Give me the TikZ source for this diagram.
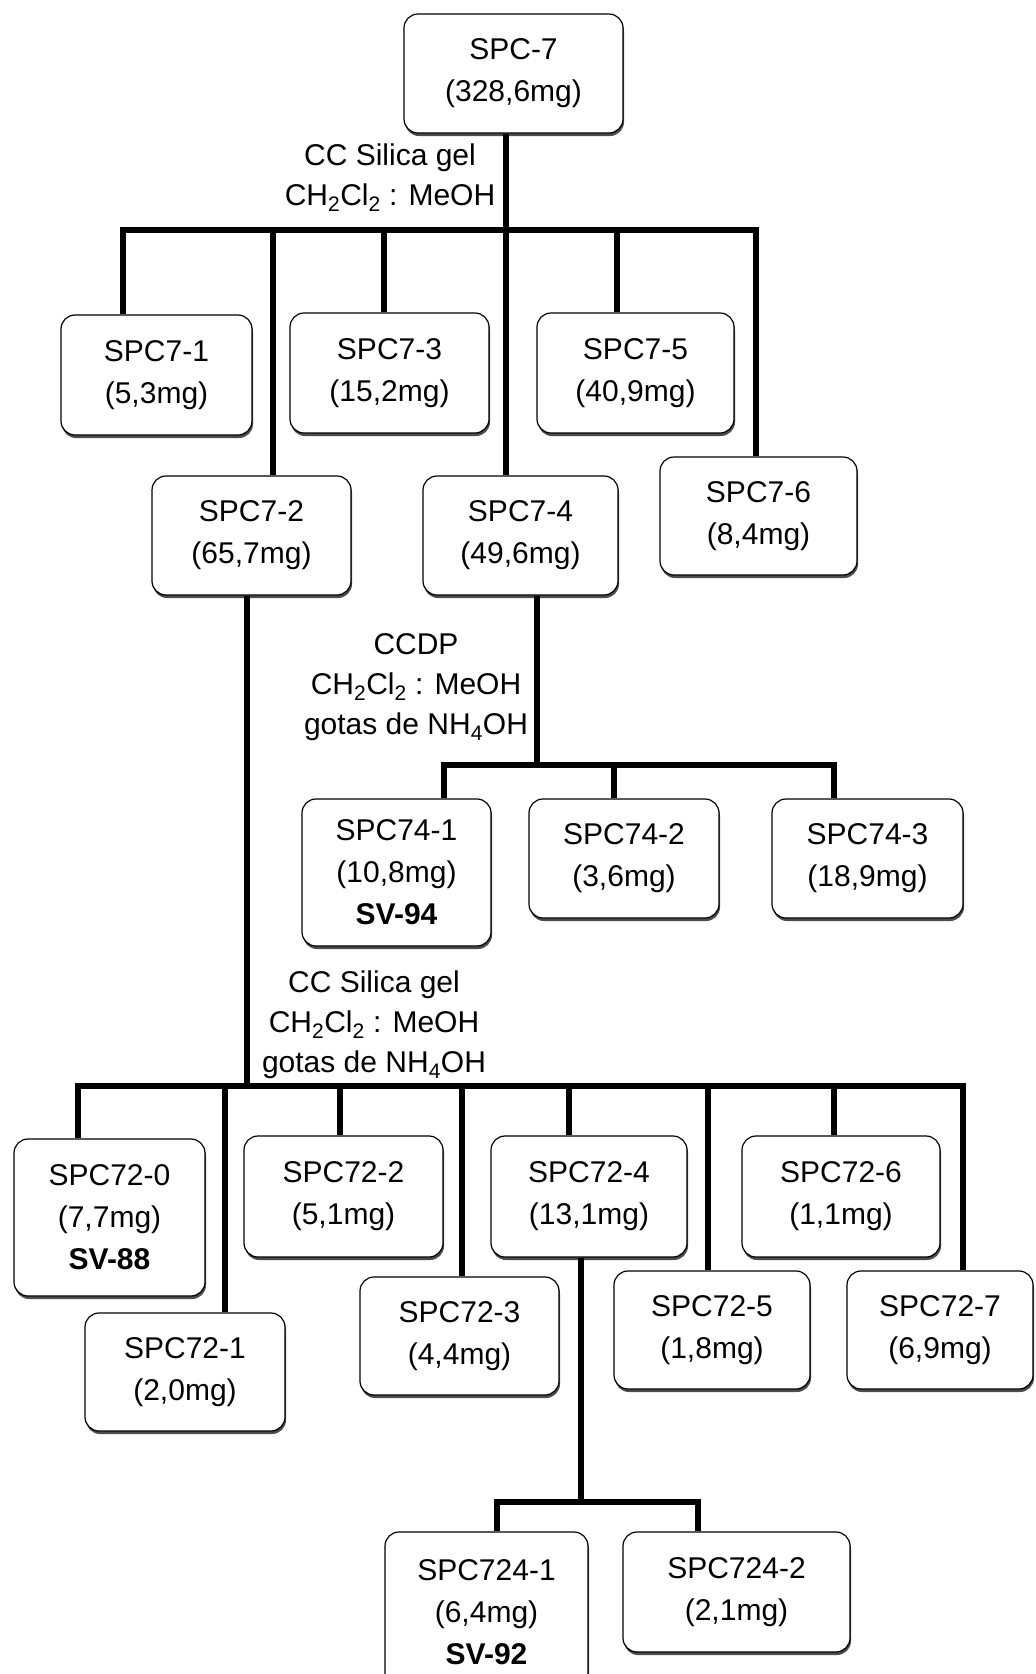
\documentclass[tikz,border=0pt]{standalone}
\usepackage{fontspec}
\setmainfont{Liberation Sans}
\usetikzlibrary{shadows}
\begin{document}
\begin{tikzpicture}[x=1pt,y=-1pt,
 box/.style={draw, line width=1.2pt, rounded corners=14pt, fill=white, align=center, inner sep=0pt,
   font=\fontsize{30}{42}\selectfont,
   drop shadow={shadow xshift=1pt, shadow yshift=-3pt, fill=black!70, opacity=1}},
 wh/.style 2 args={minimum width=#1pt, minimum height=#2pt},
 lbl/.style={align=center, font=\fontsize{30}{40}\selectfont, inner sep=0pt},
 conn/.style={line width=6pt}]
\useasboundingbox[fill=white] (0,0) rectangle (1036,1674);

% boxes
\node[box, wh={219}{119}] (top) at (513.5,73.5) {SPC-7\\(328,6mg)};
\node[box, wh={191}{120}] (s71) at (156.5,375) {SPC7-1\\(5,3mg)};
\node[box, wh={199}{120}] (s73) at (389.5,373) {SPC7-3\\(15,2mg)};
\node[box, wh={197}{120}] (s75) at (635.5,373) {SPC7-5\\(40,9mg)};
\node[box, wh={197}{118}] (s76) at (758.5,516) {SPC7-6\\(8,4mg)};
\node[box, wh={199}{119}] (s72) at (251.5,535.5) {SPC7-2\\(65,7mg)};
\node[box, wh={195}{119}] (s74) at (520.5,535.5) {SPC7-4\\(49,6mg)};

\node[box, wh={189}{147}] (s741) at (396.5,872.5) {SPC74-1\\(10,8mg)\\{\bfseries SV-94}};
\node[box, wh={190}{119}] (s742) at (624,858.5) {SPC74-2\\(3,6mg)};
\node[box, wh={191}{119}] (s743) at (867.5,858.5) {SPC74-3\\(18,9mg)};

\node[box, wh={191}{157}] (s720) at (109.5,1217.5) {SPC72-0\\(7,7mg)\\{\bfseries SV-88}};
\node[box, wh={200}{118}] (s721) at (185,1372) {SPC72-1\\(2,0mg)};
\node[box, wh={199}{121}] (s722) at (343.5,1196.5) {SPC72-2\\(5,1mg)};
\node[box, wh={199}{118}] (s723) at (459.5,1336) {SPC72-3\\(4,4mg)};
\node[box, wh={196}{121}] (s724) at (589,1196.5) {SPC72-4\\(13,1mg)};
\node[box, wh={196}{118}] (s725) at (712,1330) {SPC72-5\\(1,8mg)};
\node[box, wh={198}{121}] (s726) at (841,1196.5) {SPC72-6\\(1,1mg)};
\node[box, wh={186}{118}] (s727) at (940,1330) {SPC72-7\\(6,9mg)};

\node[box, wh={203}{160}] (s7241) at (486.5,1612) {SPC724-1\\(6,4mg)\\{\bfseries SV-92}};
\node[box, wh={227}{120}] (s7242) at (736.5,1592) {SPC724-2\\(2,1mg)};

% labels
\node[lbl] (l1) at (390,178) {CC Silica gel\\CH\textsubscript{2}Cl\textsubscript{2} : MeOH};
\node[lbl] (l2) at (416,687) {CCDP\\CH\textsubscript{2}Cl\textsubscript{2} : MeOH\\gotas de NH\textsubscript{4}OH};
\node[lbl] (l3) at (374,1025) {CC Silica gel\\CH\textsubscript{2}Cl\textsubscript{2} : MeOH\\gotas de NH\textsubscript{4}OH};

% level 1
\coordinate (j1) at (506,230);
\coordinate (b1l) at (120,230);
\coordinate (b1r) at (759,230);
\coordinate (d71) at (123,230);
\coordinate (d72) at (273,230);
\coordinate (d73) at (384,230);
\coordinate (d75) at (617,230);
\coordinate (d76) at (756,230);
\draw[conn] (b1l) -- (b1r);
\draw[conn] (top.south -| j1) -- (j1 |- s74.north);
\draw[conn] (d71) -- (d71 |- s71.north);
\draw[conn] (d72) -- (d72 |- s72.north);
\draw[conn] (d73) -- (d73 |- s73.north);
\draw[conn] (d75) -- (d75 |- s75.north);
\draw[conn] (d76) -- (d76 |- s76.north);

% level 2 (from SPC7-4)
\coordinate (j2) at (537,765);
\coordinate (b2l) at (441,765);
\coordinate (b2r) at (837,765);
\coordinate (d741) at (444,765);
\coordinate (d742) at (614,765);
\coordinate (d743) at (834,765);
\draw[conn] (s74.south -| j2) -- (j2);
\draw[conn] (b2l) -- (b2r);
\draw[conn] (d741) -- (d741 |- s741.north);
\draw[conn] (d742) -- (d742 |- s742.north);
\draw[conn] (d743) -- (d743 |- s743.north);

% level 3 (from SPC7-2)
\coordinate (j3) at (247,1086);
\coordinate (b3l) at (75,1086);
\coordinate (b3r) at (966,1086);
\coordinate (d720) at (78,1086);
\coordinate (d721) at (225,1086);
\coordinate (d722) at (340,1086);
\coordinate (d723) at (462,1086);
\coordinate (d724) at (569,1086);
\coordinate (d725) at (708,1086);
\coordinate (d726) at (834,1086);
\coordinate (d727) at (963,1086);
\draw[conn] (s72.south -| j3) -- (j3);
\draw[conn] (b3l) -- (b3r);
\foreach \n in {720,721,722,723,724,725,726,727}{
  \draw[conn] (d\n) -- (d\n |- s\n.north);
}

% level 4 (from SPC72-4)
\coordinate (j4) at (581,1502);
\coordinate (b4l) at (494,1502);
\coordinate (b4r) at (701,1502);
\coordinate (d7241) at (497,1502);
\coordinate (d7242) at (698,1502);
\draw[conn] (s724.south -| j4) -- (j4);
\draw[conn] (b4l) -- (b4r);
\draw[conn] (d7241) -- (d7241 |- s7241.north);
\draw[conn] (d7242) -- (d7242 |- s7242.north);
\end{tikzpicture}
\end{document}
